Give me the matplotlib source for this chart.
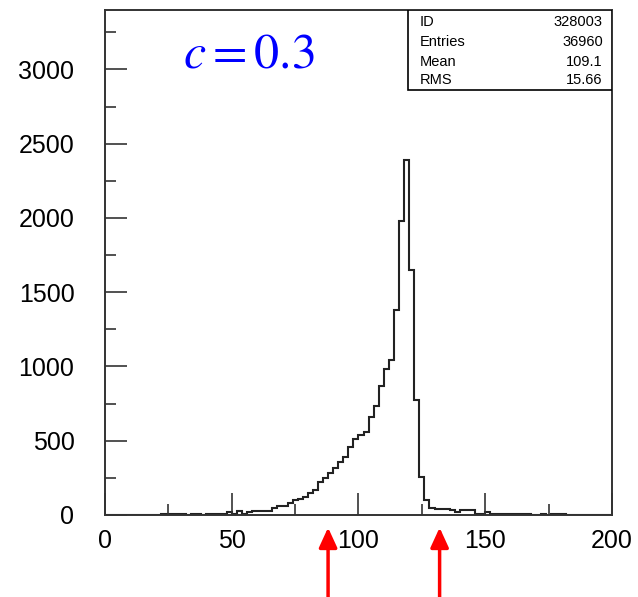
import numpy as np
import matplotlib
matplotlib.use('Agg')
import matplotlib.pyplot as plt
from matplotlib.patches import Rectangle
from matplotlib.ticker import MultipleLocator

plt.rcParams['font.family'] = ['Liberation Sans', 'DejaVu Sans']
plt.rcParams['mathtext.fontset'] = 'stix'

# histogram: 100 bins of width 2 from 0 to 200 (counts)
bin_edges = np.arange(0, 202, 2)
counts = [0, 0, 0, 0, 0, 0, 0, 0, 0, 0,
          0, 6, 6, 6, 6, 6, 0, 6, 6, 0,
          6, 6, 6, 6, 18, 5, 28, 8, 18, 28,
          29, 29, 30, 48, 58, 63, 80, 104, 110, 124,
          146, 166, 224, 247, 285, 314, 358, 393, 461, 510,
          539, 562, 662, 734, 869, 982, 1044, 1381, 1981, 2392,
          1651, 771, 254, 104, 48, 40, 40, 40, 31, 22,
          31, 31, 31, 8, 8, 18, 6, 6, 6, 6,
          6, 6, 6, 6, 0, 0, 6, 0, 6, 6,
          6, 0, 0, 0, 0, 0, 0, 0, 0, 0]

stat_names = ['ID', 'Entries', 'Mean', 'RMS']
stat_values = ['328003', '36960', '109.1', '15.66']
arrow_x = [88, 132]
label_text = r'$c = 0.3$'

fig = plt.figure(figsize=(6.38, 5.97), dpi=100)
ax = fig.add_axes([0.1646, 0.1374, 0.7946, 0.8458])

ax.stairs(counts, bin_edges, color='#222222', linewidth=1.5, baseline=0)

ax.set_xlim(0, 200)
ax.set_ylim(0, 3400)
ax.xaxis.set_major_locator(MultipleLocator(50))
ax.xaxis.set_minor_locator(MultipleLocator(25))
ax.yaxis.set_major_locator(MultipleLocator(500))
ax.yaxis.set_minor_locator(MultipleLocator(250))
ax.tick_params(which='both', direction='in', top=False, right=False,
               width=1.2, color='#333333', labelsize=18)
ax.tick_params(which='major', length=16)
ax.tick_params(which='minor', length=8)
ax.tick_params(axis='x', which='major', pad=10)
ax.tick_params(axis='y', which='major', pad=22)
for sp in ax.spines.values():
    sp.set_linewidth(1.4)
    sp.set_color('#333333')

# stats box
ax.add_patch(Rectangle((0.598, 0.8416), 0.402, 0.1584, transform=ax.transAxes,
                       facecolor='white', edgecolor='black', linewidth=1.2, zorder=5))
rows_y = [0.976, 0.937, 0.897, 0.861]
for name, val, yy in zip(stat_names, stat_values, rows_y):
    ax.text(0.621, yy, name, transform=ax.transAxes, fontsize=10.5,
            va='center', ha='left', zorder=6)
    ax.text(0.982, yy, val, transform=ax.transAxes, fontsize=10.5,
            va='center', ha='right', zorder=6)

ax.text(0.284, 0.911, label_text, transform=ax.transAxes, fontsize=36,
        color='#0000ff', ha='center', va='center')

# red arrows below the axis
for xa in arrow_x:
    ax.annotate('', xy=(xa, -0.025), xytext=(xa, -0.165),
                xycoords=ax.get_xaxis_transform(), textcoords=ax.get_xaxis_transform(),
                annotation_clip=False,
                arrowprops=dict(arrowstyle='-|>,head_length=1.2,head_width=0.55',
                                color='#ff0000', linewidth=2.5, shrinkA=0, shrinkB=0))

plt.savefig('out.png', dpi=100)
